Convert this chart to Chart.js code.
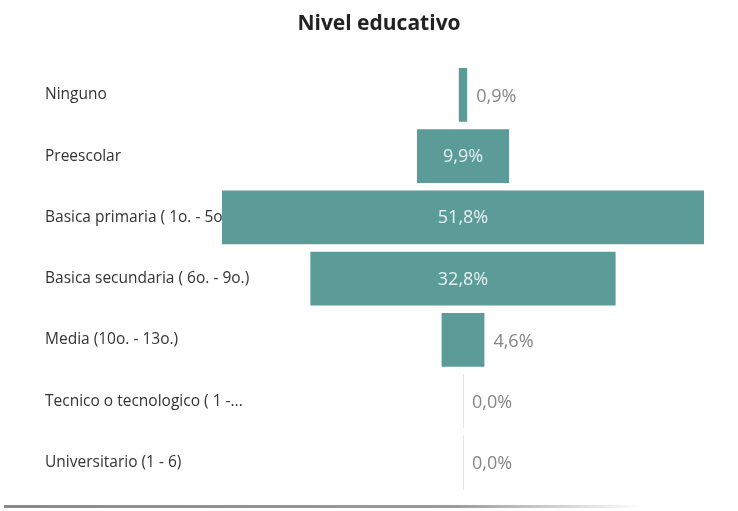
<!DOCTYPE html>
<html>
<head>
<meta charset="utf-8">
<script src="https://cdn.jsdelivr.net/npm/chart.js@4"></script>
<style>
  html, body { margin: 0; padding: 0; background: #fff; }
  #wrap { position: relative; width: 738px; height: 511px; }
  #edge {
    position: absolute; left: 4px; top: 505px; width: 640px; height: 3px;
    background: linear-gradient(to right, #8a8a8a, #9a9a9a 70%, rgba(180,180,180,0));
  }
</style>
</head>
<body>
<div id="wrap">
  <canvas id="chart" width="738" height="511"></canvas>
  <div id="edge"></div>
</div>
<script>
// Data
const categories = [
  'Ninguno',
  'Preescolar',
  'Basica primaria ( 1o. - 5o.)',
  'Basica secundaria ( 6o. - 9o.)',
  'Media (10o. - 13o.)',
  'Tecnico o tecnologico ( 1 -...',
  'Universitario (1 - 6)'
];
const values = [0.9, 9.9, 51.8, 32.8, 4.6, 0.0, 0.0];

const barColor = '#5b9b98';
const insideMin = 8; // values above this get the label inside the bar
const labelX = 45;

const fmt = v => v.toFixed(1).replace('.', ',') + '%';

// Category names on the left, drawn under the bars
const categoryLabels = {
  id: 'categoryLabels',
  beforeDatasetsDraw(chart) {
    const ctx = chart.ctx;
    const ys = chart.scales.y;
    ctx.save();
    ctx.font = '15.5px "Open Sans", sans-serif';
    ctx.fillStyle = '#333';
    ctx.textAlign = 'left';
    ctx.textBaseline = 'middle';
    categories.forEach((c, i) => {
      ctx.fillText(c, labelX, ys.getPixelForValue(i));
    });
    ctx.restore();
  }
};

// Value labels + thin line for empty rows
const funnelLabels = {
  id: 'funnelLabels',
  afterDatasetsDraw(chart) {
    const ctx = chart.ctx;
    const meta = chart.getDatasetMeta(0);
    const xs = chart.scales.x;
    const cx = xs.getPixelForValue(0);
    ctx.save();
    ctx.font = '18px "Open Sans", sans-serif';
    ctx.textBaseline = 'middle';
    meta.data.forEach((bar, i) => {
      const v = values[i];
      const half = bar.height / 2;
      if (v === 0) {
        ctx.strokeStyle = '#e4e4e4';
        ctx.lineWidth = 1;
        ctx.beginPath();
        ctx.moveTo(Math.round(cx) + 0.5, bar.y - half);
        ctx.lineTo(Math.round(cx) + 0.5, bar.y + half);
        ctx.stroke();
      }
      if (v > insideMin) {
        ctx.fillStyle = '#e6f2f1';
        ctx.textAlign = 'center';
        ctx.fillText(fmt(v), cx, bar.y + 1);
      } else {
        const right = xs.getPixelForValue(v / 2);
        ctx.fillStyle = '#858585';
        ctx.textAlign = 'left';
        ctx.fillText(fmt(v), right + 9, bar.y + 2);
      }
    });
    ctx.restore();
  }
};

new Chart(document.getElementById('chart').getContext('2d'), {
  type: 'bar',
  data: {
    labels: categories,
    datasets: [{
      data: values.map(v => [-v / 2, v / 2]),
      backgroundColor: barColor,
      borderWidth: 0,
      categoryPercentage: 0.88,
      barPercentage: 1
    }]
  },
  options: {
    indexAxis: 'y',
    responsive: false,
    animation: false,
    layout: { padding: { left: 47, right: 27, top: 0, bottom: 18 } },
    plugins: {
      legend: { display: false },
      tooltip: { enabled: false },
      title: {
        display: true,
        text: 'Nivel educativo',
        color: '#222',
        font: { family: '"Open Sans", sans-serif', size: 21, weight: 'bold' },
        padding: { top: 11, bottom: 28 }
      }
    },
    scales: {
      x: {
        display: false,
        min: -26.65,
        max: 26.65
      },
      y: {
        grid: { display: false },
        border: { display: false },
        ticks: { display: false },
        afterFit: scale => { scale.width = 168; }
      }
    }
  },
  plugins: [categoryLabels, funnelLabels]
});
</script>
</body>
</html>
